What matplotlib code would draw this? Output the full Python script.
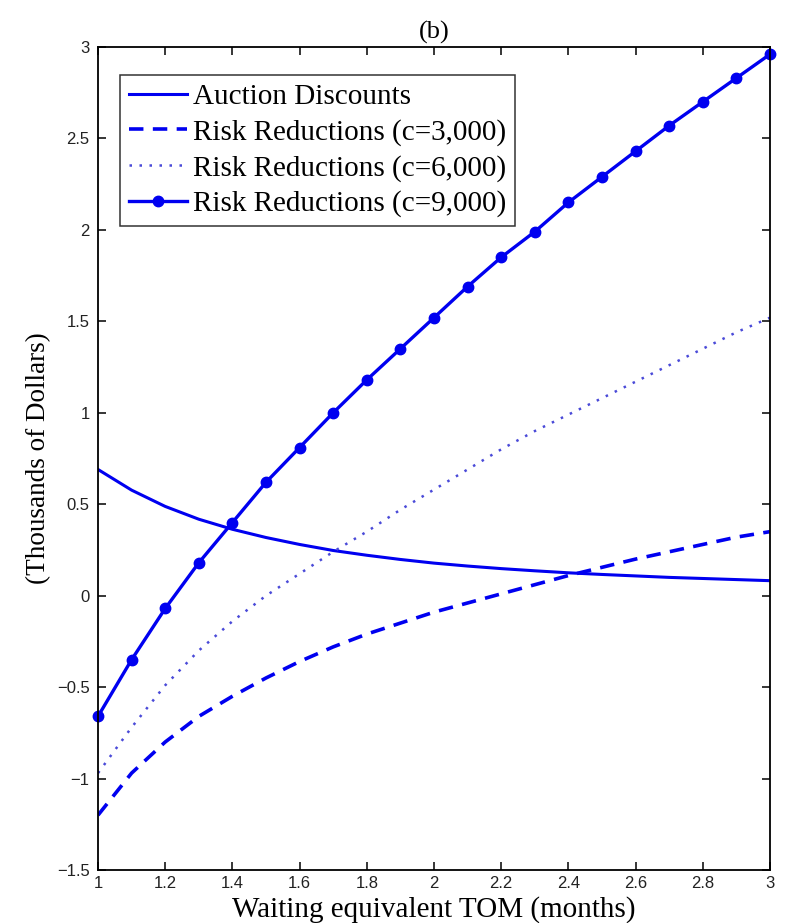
import matplotlib
matplotlib.use("Agg")
import matplotlib.pyplot as plt

# waiting equivalent TOM (months)
tom = [1.0, 1.1, 1.2, 1.3, 1.4, 1.5, 1.6, 1.7, 1.8, 1.9, 2.0,
       2.1, 2.2, 2.3, 2.4, 2.5, 2.6, 2.7, 2.8, 2.9, 3.0]

# thousands of dollars
auction = [0.69, 0.577, 0.488, 0.418, 0.363, 0.318, 0.28, 0.247, 0.221, 0.198, 0.178,
           0.162, 0.148, 0.136, 0.125, 0.116, 0.108, 0.10, 0.094, 0.088, 0.082]
risk_3000 = [-1.20, -0.97, -0.80, -0.66, -0.55, -0.45, -0.36, -0.28, -0.21, -0.15, -0.09,
             -0.04, 0.01, 0.06, 0.11, 0.155, 0.20, 0.24, 0.28, 0.32, 0.35]
risk_6000 = [-0.97, -0.72, -0.49, -0.30, -0.14, 0.0, 0.12, 0.24, 0.35, 0.47, 0.58,
             0.69, 0.80, 0.90, 0.99, 1.08, 1.17, 1.26, 1.35, 1.44, 1.52]
risk_9000 = [-0.66, -0.35, -0.07, 0.18, 0.40, 0.62, 0.81, 1.00, 1.18, 1.35, 1.52,
             1.69, 1.85, 1.99, 2.15, 2.29, 2.43, 2.57, 2.70, 2.83, 2.96]

labels = ["Auction Discounts", "Risk Reductions (c=3,000)",
          "Risk Reductions (c=6,000)", "Risk Reductions (c=9,000)"]

xticks = [1, 1.2, 1.4, 1.6, 1.8, 2, 2.2, 2.4, 2.6, 2.8, 3]
yticks = [-1.5, -1, -0.5, 0, 0.5, 1, 1.5, 2, 2.5, 3]

serif = "Liberation Serif"
sans = "Liberation Sans"
blue = "#0000f0"

fig = plt.figure(figsize=(7.86, 9.23), dpi=100)
ax = fig.add_axes([0.1247, 0.0574, 0.8549, 0.8917])

ax.plot(tom, auction, color=blue, lw=2.2, label=labels[0])
ax.plot(tom, risk_3000, color=blue, lw=2.6, dashes=(4, 2.6), label=labels[1])
ax.plot(tom, risk_6000, color="#4a4ad8", lw=1.8, dashes=(1, 3), label=labels[2])
ax.plot(tom, risk_9000, color=blue, lw=2.4, marker="o", ms=7.5, clip_on=False, label=labels[3])

ax.set_xlim(1, 3)
ax.set_ylim(-1.5, 3)
ax.set_xticks(xticks)
ax.set_xticklabels([f"{v:g}" for v in xticks])
ax.set_yticks(yticks)
ax.set_yticklabels([f"{v:g}".replace("-", "\u2212") for v in yticks])
ax.tick_params(direction="in", top=True, right=True, length=6, width=1.1,
               labelsize=12, pad=6)
ax.tick_params(axis="x", pad=4)
for lab in ax.get_xticklabels() + ax.get_yticklabels():
    lab.set_fontfamily(sans)
    lab.set_color("#222222")
for sp in ax.spines.values():
    sp.set_linewidth(1.3)

ax.set_xlabel("Waiting equivalent TOM (months)", fontfamily=serif, fontsize=21,
              labelpad=0, va="top")
ax.xaxis.set_label_coords(0.5, -0.0315)
ax.set_ylabel("(Thousands of Dollars)", fontfamily=serif, fontsize=19.5, labelpad=4)
ax.set_title("(b)", fontfamily=serif, fontsize=19, pad=6)

leg = ax.legend(loc="upper left", bbox_to_anchor=(0.0327, 0.966), borderaxespad=0,
                prop={"family": serif, "size": 21}, frameon=True, fancybox=False,
                edgecolor="black", handlelength=2.0, handletextpad=0.2,
                labelspacing=0.3, borderpad=0.3)
leg.get_frame().set_linewidth(1.1)

fig.savefig("out.png", dpi=100)
